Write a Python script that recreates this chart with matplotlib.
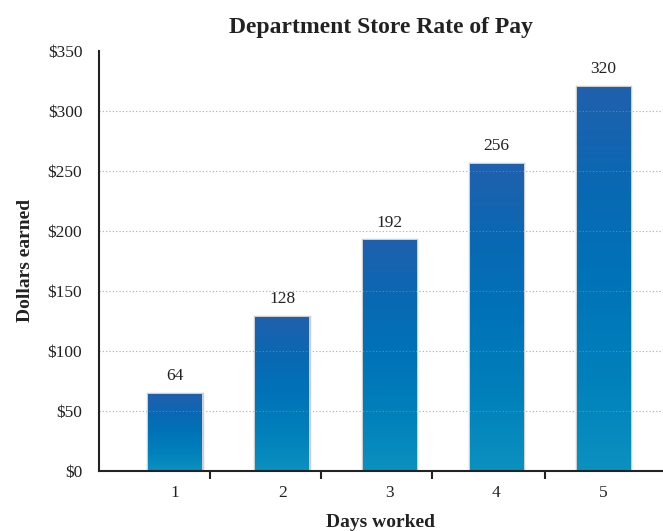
import matplotlib.pyplot as plt
import numpy as np
from matplotlib.colors import LinearSegmentedColormap
from matplotlib.ticker import FixedLocator

dias = [1, 2, 3, 4, 5]
ganancias = [64, 128, 192, 256, 320]
etiquetas_y = ['$0', '$50', '$100', '$150', '$200', '$250', '$300', '$350']
valores_y = [0, 50, 100, 150, 200, 250, 300, 350]
# marcas del eje x entre columnas
marcas_x = [1.327, 2.363, 3.40, 4.455]

plt.rcParams['font.family'] = ['Liberation Serif', 'DejaVu Serif']

degradado = LinearSegmentedColormap.from_list(
    'azul', ['#0b91c0', '#0080bb', '#0073b8', '#0a68b3', '#2060ad'])

fig = plt.figure(figsize=(6.63, 5.31), dpi=100)
ax = fig.add_axes([0.1493, 0.1136, 0.8507, 0.7909])

ancho = 0.5
barras = ax.bar(dias, ganancias, width=ancho, color='none', edgecolor='#cfcfcf',
                linewidth=2.5, zorder=2)
grad = np.linspace(0, 1, 256).reshape(-1, 1)
for barra in barras:
    x0 = barra.get_x()
    h = barra.get_height()
    img = ax.imshow(grad, cmap=degradado, origin='lower', aspect='auto',
                    extent=(x0, x0 + ancho, 0, h), zorder=3)
    img.set_clip_path(barra)

for d, g in zip(dias, ganancias):
    ax.text(d, g + 8, str(g), ha='center', va='bottom', fontsize=12.5, color='#222222')

# líneas de grilla punteadas (más suaves encima de las barras)
for v in valores_y[1:-1]:
    ax.axhline(v, color='#9a9a9a', linestyle=(0, (1, 2)), linewidth=0.8, zorder=1)
    ax.axhline(v, color='white', linestyle=(0, (1, 2)), linewidth=0.8, alpha=0.25, zorder=4)

ax.set_xlim(0.29, 5.555)
ax.set_ylim(0, 350)
ax.set_yticks(valores_y)
ax.set_yticklabels(etiquetas_y, fontsize=12.5, color='#222222')
ax.set_xticks(dias)
ax.set_xticklabels([str(d) for d in dias], fontsize=12.5, color='#222222')
ax.xaxis.set_minor_locator(FixedLocator(marcas_x))
ax.tick_params(axis='y', length=0, pad=12)
ax.tick_params(axis='x', which='major', length=0, pad=10)
ax.tick_params(axis='x', which='minor', length=6, width=1.5, color='#222222', direction='out')

for lado in ['top', 'right']:
    ax.spines[lado].set_visible(False)
for lado in ['left', 'bottom']:
    ax.spines[lado].set_color('#222222')
    ax.spines[lado].set_linewidth(1.5)
    ax.spines[lado].set_zorder(5)

ax.set_title('Department Store Rate of Pay', fontsize=17, fontweight='bold',
             color='#222222', pad=13, x=0.5)
ax.set_xlabel('Days worked', fontsize=14, fontweight='bold', color='#222222', labelpad=10)
ax.set_ylabel('Dollars earned', fontsize=14, fontweight='bold', color='#222222', labelpad=10)

fig.savefig('out.png', dpi=100)
